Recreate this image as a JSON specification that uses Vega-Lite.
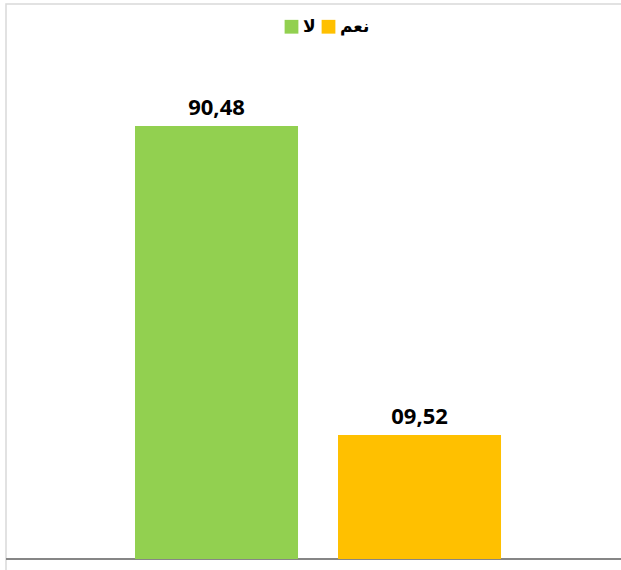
{
  "$schema": "https://vega.github.io/schema/vega-lite/v6.json",
  "width": 617,
  "height": 568,
  "autosize": {"type": "none"},
  "padding": {"left": 6, "top": 4, "right": 0, "bottom": 0},
  "background": "white",
  "view": {"stroke": "#d9d9d9", "strokeWidth": 1.5},
  "data": {
    "values": [
      {"answer": "لا", "value": 90.48, "label": "90,48"},
      {"answer": "نعم", "value": 9.52, "label": "09,52"}
    ]
  },
  "encoding": {
    "x": {
      "field": "answer",
      "type": "nominal",
      "sort": ["لا", "نعم"],
      "axis": null,
      "scale": {"paddingInner": 0.197, "paddingOuter": 0.6182, "align": 0.514}
    }
  },
  "layer": [
    {
      "mark": {"type": "rule", "color": "#868686", "strokeWidth": 2},
      "encoding": {"x": null, "y": {"datum": -22.97, "type": "quantitative", "scale": {"domain": [-26.38, 122.45], "nice": false, "zero": false}, "axis": null}}
    },
    {
      "mark": {"type": "bar"},
      "encoding": {
        "y": {"field": "value", "type": "quantitative", "scale": {"domain": [-26.38, 122.45], "nice": false, "zero": false}, "axis": null},
        "y2": {"datum": -22.97},
        "color": {
          "field": "answer",
          "type": "nominal",
          "scale": {"domain": ["لا", "نعم"], "range": ["#92D050", "#FFC000"]},
          "legend": {
            "title": null,
            "orient": "none",
            "direction": "horizontal",
            "legendX": 277,
            "legendY": 14,
            "symbolType": "square",
            "symbolSize": 190,
            "symbolStrokeWidth": 0,
            "labelFont": "DejaVu Sans",
            "labelFontWeight": "bold",
            "labelFontSize": 17,
            "labelColor": "black",
            "columnPadding": 4,
            "labelOffset": 3,
            "padding": 0
          }
        }
      }
    },
    {
      "mark": {"type": "text", "dy": -11, "baseline": "alphabetic", "font": "Open Sans", "fontWeight": "bold", "fontSize": 22, "color": "black"},
      "encoding": {
        "y": {"field": "value", "type": "quantitative", "scale": {"domain": [-26.38, 122.45], "nice": false, "zero": false}, "axis": null},
        "text": {"field": "label"}
      }
    }
  ]
}
